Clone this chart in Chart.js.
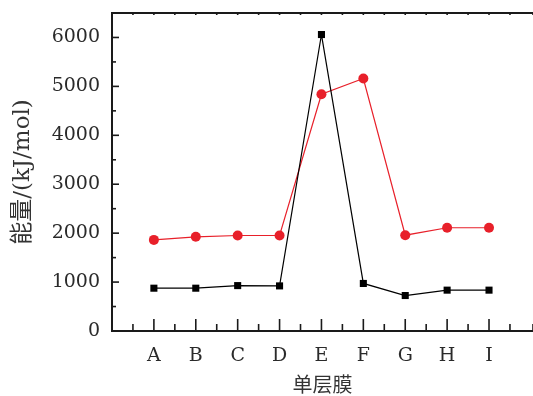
<!DOCTYPE html>
<html><head><meta charset="utf-8">
<script src="https://cdn.jsdelivr.net/npm/chart.js@4/dist/chart.umd.min.js"></script>
<style>html,body{margin:0;padding:0;background:#fff}#wrap{width:533px;height:396px}</style>
</head><body><div id="wrap"><canvas id="c" width="533" height="396"></canvas></div>
<script>
const categories = ['A','B','C','D','E','F','G','H','I'];
const blackSeries = [875, 875, 928, 922, 6060, 972, 725, 835, 835];
const redSeries = [1862, 1925, 1952, 1952, 4840, 5160, 1958, 2110, 2110];
const yTickValues = [0, 1000, 2000, 3000, 4000, 5000, 6000];
const xTitle = '单层膜';
const yTitle = '能量/(kJ/mol)';

const toPts = arr => arr.map((v, i) => ({x: i + 1, y: v}));
const serif = '"DejaVu Serif", "Liberation Serif", serif';
const axisColor = '#1a1a1a';

const tickPlugin = {
  id: 'innerTicks',
  afterDraw(chart) {
    const ctx = chart.ctx, a = chart.chartArea, xs = chart.scales.x, ys = chart.scales.y;
    ctx.save();
    ctx.strokeStyle = axisColor;
    ctx.lineWidth = 1.6;
    ys.ticks.forEach(t => {
      const p = ys.getPixelForValue(t.value);
      const len = (t.value % 1000 === 0) ? 7 : 4;
      ctx.beginPath(); ctx.moveTo(a.left, p); ctx.lineTo(a.left + len, p); ctx.stroke();
    });
    xs.ticks.forEach(t => {
      const p = xs.getPixelForValue(t.value);
      if (t.value === 0) return;
      const len = Number.isInteger(t.value) ? 12 : 7;
      ctx.beginPath(); ctx.moveTo(p, a.bottom); ctx.lineTo(p, a.bottom - len); ctx.stroke();
      ctx.beginPath(); ctx.moveTo(p, a.top); ctx.lineTo(p, a.top + 2); ctx.stroke();
    });
    ctx.lineWidth = 2;
    ctx.beginPath(); ctx.moveTo(a.left, a.top); ctx.lineTo(a.right + 20, a.top); ctx.stroke();
    ctx.restore();
  }
};

new Chart(document.getElementById('c'), {
  type: 'line',
  data: {
    datasets: [
      {data: toPts(blackSeries), borderColor: '#000', backgroundColor: '#000', borderWidth: 1.2,
       pointStyle: 'rect', pointRadius: 5, pointBorderWidth: 0, tension: 0},
      {data: toPts(redSeries), borderColor: '#e8202a', backgroundColor: '#e8202a', borderWidth: 1.2,
       pointStyle: 'circle', pointRadius: 5, pointBorderWidth: 0, tension: 0}
    ]
  },
  options: {
    responsive: false, animation: false,
    layout: {autoPadding: false, padding: {top: 13, right: 0, left: 0, bottom: 0}},
    plugins: {legend: {display: false}, tooltip: {enabled: false}},
    scales: {
      x: {
        type: 'linear', min: 0, max: 10.05,
        afterFit(s) { s.height = 65; s.paddingLeft = 0; s.paddingRight = 0; },
        grid: {display: false, drawTicks: false},
        border: {display: true, color: axisColor, width: 2},
        ticks: {stepSize: 0.5, autoSkip: false, maxRotation: 0, padding: 14, color: '#2a2a2a',
                font: {family: serif, size: 19},
                callback: v => (Number.isInteger(v) && v >= 1 && v <= categories.length) ? categories[v - 1] : ''},
        title: {display: true, text: xTitle, color: '#333', padding: {top: 0, bottom: 0},
                font: {family: '"Noto Sans CJK SC", sans-serif', size: 20}}
      },
      y: {
        min: 0, max: 6500,
        afterFit(s) { s.width = 112; s.paddingTop = 0; s.paddingBottom = 0; },
        grid: {display: false, drawTicks: false},
        border: {display: true, color: axisColor, width: 2},
        ticks: {stepSize: 500, autoSkip: false, padding: 12, color: '#2a2a2a',
                font: {family: serif, size: 19},
                callback: v => yTickValues.includes(v) ? String(v) : ''},
        title: {display: true, text: yTitle, color: '#333', padding: {top: 9, bottom: 0},
                font: {family: '"DejaVu Serif", "Noto Sans CJK SC", serif', size: 23}}
      }
    }
  },
  plugins: [tickPlugin]
});
</script></body></html>
